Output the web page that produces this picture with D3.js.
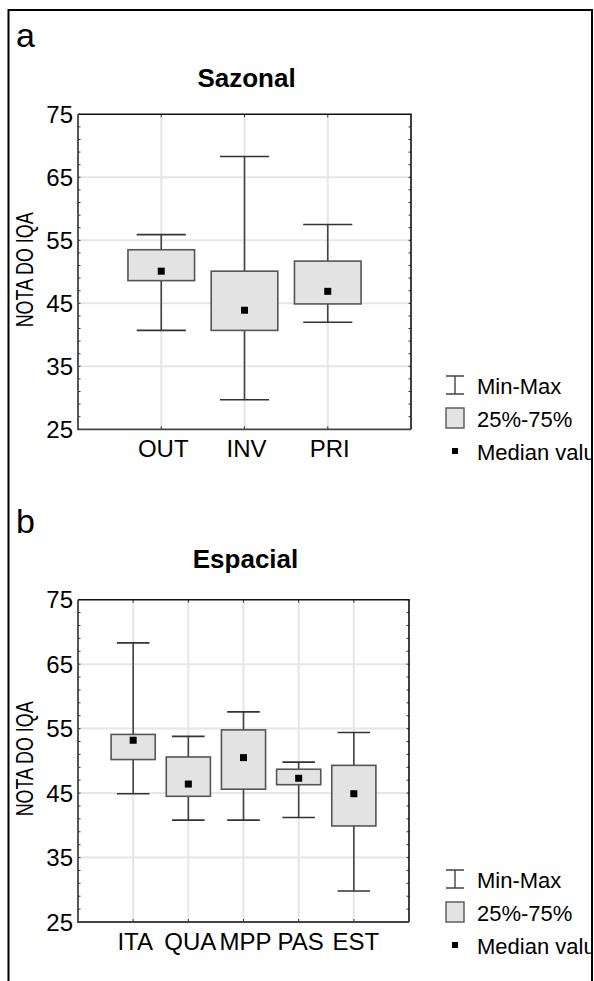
<!DOCTYPE html>
<html>
<head>
<meta charset="utf-8">
<script src="https://cdn.jsdelivr.net/npm/d3@7"></script>
<style>
  html, body { margin: 0; padding: 0; background: #fff; }
  svg { display: block; }
  text { font-family: "Liberation Sans", Arial, sans-serif; }
</style>
</head>
<body>
<svg id="chart" width="594" height="981"></svg>
<script>
// ---- data ----
const seasonCats   = ["OUT", "INV", "PRI"];
const seasonMin    = [40.7, 29.7, 42.0];
const seasonQ1     = [48.6, 40.7, 44.9];
const seasonMedian = [50.1, 43.9, 46.9];
const seasonQ3     = [53.5, 50.1, 51.7];
const seasonMax    = [55.9, 68.3, 57.5];

const siteCats   = ["ITA", "QUA", "MPP", "PAS", "EST"];
const siteMin    = [44.9, 40.8, 40.8, 41.2, 29.8];
const siteQ1     = [50.2, 44.5, 45.6, 46.3, 39.9];
const siteMedian = [53.2, 46.4, 50.5, 47.3, 44.9];
const siteQ3     = [54.1, 50.6, 54.8, 48.7, 49.3];
const siteMax    = [68.3, 53.8, 57.6, 49.8, 54.4];

const yTicks = [25, 35, 45, 55, 65, 75];
const yDomain = [25, 75];
const yLabel = "NOTA DO IQA";
const legendLabels = ["Min-Max", "25%-75%", "Median value"];

// ---- drawing ----
const svg = d3.select("#chart");
const clip = svg.append("defs").append("clipPath").attr("id", "frameclip")
  .append("rect").attr("x", 0).attr("y", 0).attr("width", 591).attr("height", 981);

// outer frame
svg.append("path")
  .attr("d", "M8.5,981 L8.5,10 L592,10 L592,981")
  .attr("fill", "none").attr("stroke", "#000").attr("stroke-width", 2);

function panel(cfg) {
  const { letter, letterY, title, titleY, cats, mins, q1s, meds, q3s, maxs, x0, x1, y0, y1, catY, legY } = cfg;
  const g = svg.append("g");
  const x = d3.scalePoint().domain(cats).range([x0, x1]).padding(1);
  const y = d3.scaleLinear().domain(yDomain).range([y1, y0]);
  const step = x.step();

  g.append("text").attr("x", 16).attr("y", letterY).attr("font-size", 34).text(letter);
  g.append("text").attr("x", (x0 + x1) / 2 + 2).attr("y", titleY)
    .attr("text-anchor", "middle").attr("font-size", 26).attr("font-weight", "bold").text(title);

  // grid
  g.selectAll(".hg").data(yTicks.filter(t => t > yDomain[0] && t < yDomain[1])).enter()
    .append("line").attr("x1", x0).attr("x2", x1).attr("y1", d => y(d)).attr("y2", d => y(d))
    .attr("stroke", "#e6e6e6").attr("stroke-width", 2);
  g.selectAll(".vg").data(cats).enter()
    .append("line").attr("x1", d => x(d)).attr("x2", d => x(d)).attr("y1", y0).attr("y2", y1)
    .attr("stroke", "#e6e6e6").attr("stroke-width", 2);

  // minor ticks
  const minor = d3.range(yDomain[0], yDomain[1] + 0.01, 2);
  g.selectAll(".mtl").data(minor).enter().append("line")
    .attr("x1", x0).attr("x2", x0 + 2.5).attr("y1", d => y(d)).attr("y2", d => y(d))
    .attr("stroke", "#333").attr("stroke-width", 1);
  g.selectAll(".mtr").data(minor).enter().append("line")
    .attr("x1", x1).attr("x2", x1 - 2.5).attr("y1", d => y(d)).attr("y2", d => y(d))
    .attr("stroke", "#333").attr("stroke-width", 1);
  g.selectAll(".tt").data(cats).enter().append("line")
    .attr("x1", d => x(d)).attr("x2", d => x(d)).attr("y1", y0).attr("y2", y0 + 3)
    .attr("stroke", "#333").attr("stroke-width", 1);
  g.selectAll(".bt").data(cats).enter().append("line")
    .attr("x1", d => x(d)).attr("x2", d => x(d)).attr("y1", y1).attr("y2", y1 - 3)
    .attr("stroke", "#333").attr("stroke-width", 1);

  // frame
  g.append("path").attr("d", `M${x0},${y0} L${x1},${y0} L${x1},${y1}`)
    .attr("fill", "none").attr("stroke", "#111").attr("stroke-width", 1.6);
  g.append("path").attr("d", `M${x0},${y0} L${x0},${y1} L${x1},${y1}`)
    .attr("fill", "none").attr("stroke", "#444").attr("stroke-width", 1.8);

  // y tick labels
  g.selectAll(".yl").data(yTicks).enter().append("text")
    .attr("x", x0 - 5).attr("y", d => y(d) + 8.5).attr("text-anchor", "end")
    .attr("font-size", 24).text(d => d);

  // y axis title
  g.append("text").attr("transform", `translate(${33},${(y0 + y1) / 2 - 2}) rotate(-90)`)
    .attr("text-anchor", "middle").attr("font-size", 24)
    .attr("textLength", 115).attr("lengthAdjust", "spacingAndGlyphs").text(yLabel);

  // category labels
  g.selectAll(".cl").data(cats).enter().append("text")
    .attr("x", d => x(d) + 2).attr("y", catY).attr("text-anchor", "middle")
    .attr("font-size", 24).text(d => d);

  // boxes
  const bw = step * 0.8, cw = step * 0.59;
  const rows = cats.map((c, i) => ({ c, min: mins[i], q1: q1s[i], med: meds[i], q3: q3s[i], max: maxs[i] }));
  const bx = g.selectAll(".box").data(rows).enter().append("g");
  bx.append("line").attr("x1", d => x(d.c)).attr("x2", d => x(d.c))
    .attr("y1", d => y(d.max)).attr("y2", d => y(d.min)).attr("stroke", "#444").attr("stroke-width", 1.6);
  bx.append("line").attr("x1", d => x(d.c) - cw / 2).attr("x2", d => x(d.c) + cw / 2)
    .attr("y1", d => y(d.max)).attr("y2", d => y(d.max)).attr("stroke", "#333").attr("stroke-width", 1.6);
  bx.append("line").attr("x1", d => x(d.c) - cw / 2).attr("x2", d => x(d.c) + cw / 2)
    .attr("y1", d => y(d.min)).attr("y2", d => y(d.min)).attr("stroke", "#333").attr("stroke-width", 1.6);
  bx.append("rect").attr("x", d => x(d.c) - bw / 2).attr("width", bw)
    .attr("y", d => y(d.q3)).attr("height", d => y(d.q1) - y(d.q3))
    .attr("fill", "#e3e3e3").attr("stroke", "#555").attr("stroke-width", 1.6);
  bx.append("rect").attr("x", d => x(d.c) - 3.5).attr("y", d => y(d.med) - 3.5)
    .attr("width", 7).attr("height", 7).attr("fill", "#000");

  // legend
  const lg = g.append("g").attr("clip-path", "url(#frameclip)");
  const lx = 455;
  lg.append("path").attr("d", `M${lx - 9},${legY} L${lx + 9},${legY} M${lx},${legY} L${lx},${legY + 18} M${lx - 9},${legY + 18} L${lx + 9},${legY + 18}`)
    .attr("fill", "none").attr("stroke", "#444").attr("stroke-width", 1.4);
  lg.append("text").attr("x", 477).attr("y", legY + 18).attr("font-size", 22).text(legendLabels[0]);
  lg.append("rect").attr("x", lx - 9).attr("y", legY + 32).attr("width", 18).attr("height", 20)
    .attr("fill", "#e3e3e3").attr("stroke", "#555").attr("stroke-width", 1.4);
  lg.append("text").attr("x", 477).attr("y", legY + 51).attr("font-size", 22).text(legendLabels[1]);
  lg.append("rect").attr("x", lx - 3).attr("y", legY + 72).attr("width", 6).attr("height", 6).attr("fill", "#000");
  lg.append("text").attr("x", 477).attr("y", legY + 84).attr("font-size", 22).text(legendLabels[2]);
}

panel({ letter: "a", letterY: 47, title: "Sazonal", titleY: 87,
  cats: seasonCats, mins: seasonMin, q1s: seasonQ1, meds: seasonMedian, q3s: seasonQ3, maxs: seasonMax,
  x0: 78, x1: 411, y0: 114.3, y1: 429.3, catY: 457, legY: 376 });

panel({ letter: "b", letterY: 533, title: "Espacial", titleY: 568,
  cats: siteCats, mins: siteMin, q1s: siteQ1, meds: siteMedian, q3s: siteQ3, maxs: siteMax,
  x0: 78, x1: 409, y0: 599.7, y1: 922, catY: 950, legY: 870 });
</script>
</body>
</html>
